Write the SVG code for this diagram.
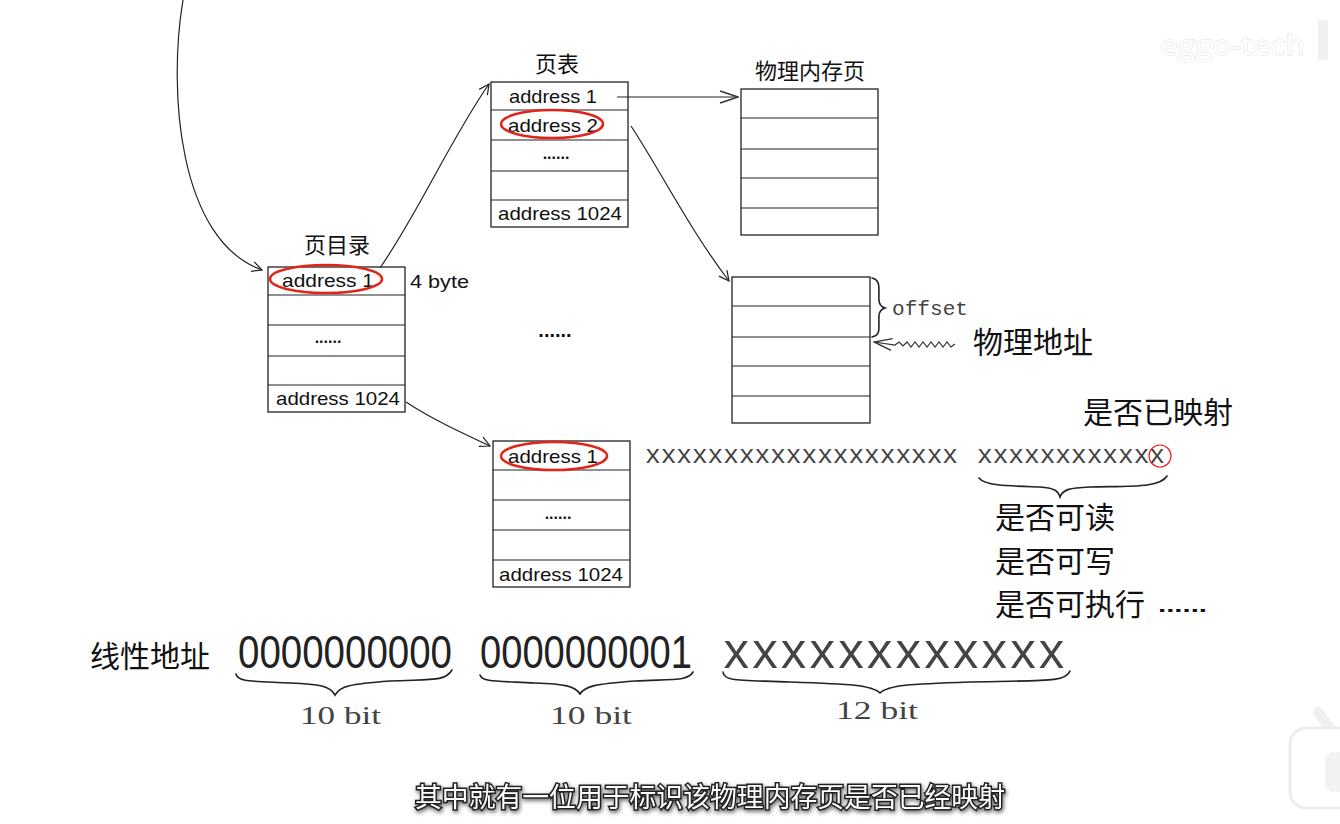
<svg xmlns="http://www.w3.org/2000/svg" width="1340" height="824" viewBox="0 0 1340 824">
  <defs>
    <marker id="open" viewBox="0 0 12 12" refX="11" refY="6" markerWidth="12" markerHeight="12" markerUnits="userSpaceOnUse" orient="auto">
      <path d="M1,1 L11,6 L1,11" fill="none" stroke="#222" stroke-width="1.2"/>
    </marker>
    <marker id="wide" viewBox="0 0 20 14" refX="19" refY="7" markerWidth="20" markerHeight="14" markerUnits="userSpaceOnUse" orient="auto">
      <path d="M1,1 L19,7 L1,13" fill="none" stroke="#333" stroke-width="1.4"/>
    </marker>
    <filter id="sub" x="-5%" y="-30%" width="110%" height="160%">
      <feGaussianBlur in="SourceAlpha" stdDeviation="2"/>
      <feOffset dx="1" dy="2" result="b"/>
      <feFlood flood-color="#000" flood-opacity="0.6"/>
      <feComposite in2="b" operator="in"/>
      <feMerge><feMergeNode/><feMergeNode in="SourceGraphic"/></feMerge>
    </filter>
  </defs>
  <style>
    .box { fill: #fff; stroke: #222; stroke-width: 1.3; }
    .row { stroke: #222; stroke-width: 1.2; }
    .addr { font-family: "Liberation Sans", "DejaVu Sans", sans-serif; font-size: 19px; fill: #111; text-anchor: middle; }
    .dots { font-family: "Liberation Sans", sans-serif; font-size: 16px; font-weight: bold; fill: #111; text-anchor: middle; }
    .title { font-family: "Noto Sans CJK SC", sans-serif; font-size: 22px; fill: #111; text-anchor: middle; }
    .cn { font-family: "Noto Sans CJK SC", sans-serif; font-size: 30px; fill: #111; }
    .mono { font-family: "Liberation Mono", monospace; fill: #444; }
    .bits { font-family: "Liberation Serif", serif; font-size: 26px; fill: #444; }
    .ring { fill: none; stroke: #e0261c; stroke-width: 2.6; }
    .link { fill: none; stroke: #222; stroke-width: 1.2; }
    .brace { fill: none; stroke: #222; stroke-width: 1.6; stroke-linecap: round; }
  </style>
  <rect width="1340" height="824" fill="#fff"/>

  <!-- page directory -->
  <g id="page-directory">
    <text class="title" x="337" y="253">页目录</text>
    <rect class="box" x="268" y="267" width="137" height="145"/>
    <line class="row" x1="268" y1="295" x2="405" y2="295"/>
    <line class="row" x1="268" y1="325" x2="405" y2="325"/>
    <line class="row" x1="268" y1="356" x2="405" y2="356"/>
    <line class="row" x1="268" y1="385" x2="405" y2="385"/>
    <text class="addr" x="328" y="287" textLength="92" lengthAdjust="spacingAndGlyphs">address 1</text>
    <text class="dots" x="328" y="343">......</text>
    <text class="addr" x="338" y="405" textLength="124" lengthAdjust="spacingAndGlyphs">address 1024</text>
    <ellipse class="ring" cx="326" cy="279" rx="56" ry="14"/>
    <text x="410" y="288" font-family="Liberation Sans, sans-serif" font-size="19" fill="#111" textLength="59" lengthAdjust="spacingAndGlyphs">4 byte</text>
  </g>

  <!-- page table (top) -->
  <g id="page-table-1">
    <text class="title" x="557" y="72">页表</text>
    <rect class="box" x="491" y="82" width="137" height="145"/>
    <line class="row" x1="491" y1="110" x2="628" y2="110"/>
    <line class="row" x1="491" y1="140" x2="628" y2="140"/>
    <line class="row" x1="491" y1="171" x2="628" y2="171"/>
    <line class="row" x1="491" y1="200" x2="628" y2="200"/>
    <text class="addr" x="553" y="103" textLength="88" lengthAdjust="spacingAndGlyphs">address 1</text>
    <text class="addr" x="553" y="132" textLength="90" lengthAdjust="spacingAndGlyphs">address 2</text>
    <text class="dots" x="556" y="159">......</text>
    <text class="addr" x="560" y="220" textLength="124" lengthAdjust="spacingAndGlyphs">address 1024</text>
    <ellipse class="ring" cx="552" cy="124" rx="51" ry="14"/>
  </g>

  <!-- page table (bottom) -->
  <g id="page-table-2">
    <rect class="box" x="493" y="441" width="137" height="146"/>
    <line class="row" x1="493" y1="470" x2="630" y2="470"/>
    <line class="row" x1="493" y1="500" x2="630" y2="500"/>
    <line class="row" x1="493" y1="530" x2="630" y2="530"/>
    <line class="row" x1="493" y1="560" x2="630" y2="560"/>
    <text class="addr" x="553" y="463" textLength="90" lengthAdjust="spacingAndGlyphs">address 1</text>
    <text class="dots" x="558" y="519">......</text>
    <text class="addr" x="561" y="581" textLength="124" lengthAdjust="spacingAndGlyphs">address 1024</text>
    <ellipse class="ring" cx="554" cy="456" rx="53" ry="14"/>
  </g>

  <!-- physical memory page (top) -->
  <g id="physical-page-1">
    <text class="title" x="810" y="79">物理内存页</text>
    <rect class="box" x="741" y="89" width="137" height="146"/>
    <line class="row" x1="741" y1="118" x2="878" y2="118"/>
    <line class="row" x1="741" y1="149" x2="878" y2="149"/>
    <line class="row" x1="741" y1="178" x2="878" y2="178"/>
    <line class="row" x1="741" y1="208" x2="878" y2="208"/>
  </g>

  <!-- physical memory page (selected) -->
  <g id="physical-page-2">
    <rect class="box" x="732" y="277" width="138" height="146"/>
    <line class="row" x1="732" y1="306" x2="870" y2="306"/>
    <line class="row" x1="732" y1="337" x2="870" y2="337"/>
    <line class="row" x1="732" y1="366" x2="870" y2="366"/>
    <line class="row" x1="732" y1="396" x2="870" y2="396"/>
    <path class="brace" stroke-width="1.1" d="M872,278 C882,280 878,292 879,300 C879,305 882,307 885,308 C882,309 879,311 879,316 C878,326 882,335 872,337"/>
    <text class="mono" x="892" y="315" font-size="21" textLength="76" lengthAdjust="spacingAndGlyphs">offset</text>
    <path fill="none" stroke="#333" stroke-width="1.2" d="M955,344 L951,347 L947,342 L943,347 L939,342 L935,347 L931,342 L927,347 L923,342 L919,347 L915,342 L911,347 L907,342 L903,346 L899,342 L895,345 L874,342" marker-end="url(#wide)"/>
    <text class="cn" x="973" y="353">物理地址</text>
  </g>

  <!-- middle ellipsis -->
  <g id="more-tables">
    <text x="555" y="337" font-family="Liberation Sans, sans-serif" font-size="20" font-weight="bold" fill="#111" text-anchor="middle">......</text>
  </g>

  <!-- page table entry layout -->
  <g id="entry-bits">
    <text class="mono" x="645" y="463" font-size="26" fill="#555" textLength="313" lengthAdjust="spacingAndGlyphs">xxxxxxxxxxxxxxxxxxxx</text>
    <text class="mono" x="977" y="463" font-size="26" fill="#555" textLength="188" lengthAdjust="spacingAndGlyphs">xxxxxxxxxxxx</text>
    <circle cx="1160" cy="456" r="11" fill="none" stroke="#e0261c" stroke-width="1.2"/>
    <text class="cn" x="1083" y="423">是否已映射</text>
    <path class="brace" d="M979,478 C985,486 1010,486 1040,487 C1053,488 1058,490 1060,497 C1063,489 1070,488 1090,487 C1130,486 1160,488 1167,476"/>
    <text class="cn" x="995" y="528">是否可读</text>
    <text class="cn" x="995" y="572">是否可写</text>
    <text class="cn" x="995" y="615">是否可执行</text>
    <text x="1158" y="612" font-family="Liberation Sans, sans-serif" font-size="20" font-weight="bold" fill="#111" textLength="49" lengthAdjust="spacingAndGlyphs">......</text>
  </g>

  <!-- linear address -->
  <g id="linear-address">
    <text class="cn" x="90" y="667">线性地址</text>
    <text x="238" y="668" font-family="Liberation Sans, sans-serif" font-size="46" fill="#222" textLength="214" lengthAdjust="spacingAndGlyphs">0000000000</text>
    <text x="480" y="668" font-family="Liberation Sans, sans-serif" font-size="46" fill="#222" textLength="212" lengthAdjust="spacingAndGlyphs">0000000001</text>
    <text class="mono" x="722" y="668" font-size="50" fill="#222" textLength="344" lengthAdjust="spacingAndGlyphs">xxxxxxxxxxxx</text>
    <path class="brace" d="M236,674 C238,682 250,681 290,683 C320,684 330,686 335,695 C340,686 350,684 390,681 C430,679 445,682 452,670"/>
    <text class="bits" x="300" y="724" textLength="81" lengthAdjust="spacingAndGlyphs">10 bit</text>
    <path class="brace" d="M480,675 C482,682 495,681 535,683 C565,684 575,686 580,694 C585,686 595,684 635,681 C675,679 688,681 693,672"/>
    <text class="bits" x="550" y="724" textLength="82" lengthAdjust="spacingAndGlyphs">10 bit</text>
    <path class="brace" stroke-width="2.6" d="M723,672 C724,682 740,680 790,682 C850,684 872,685 880,693 C888,685 910,684 970,682 C1040,680 1066,683 1070,671"/>
    <text class="bits" x="836" y="719" textLength="82" lengthAdjust="spacingAndGlyphs">12 bit</text>
  </g>

  <!-- connectors -->
  <g id="connectors">
    <path class="link" d="M183,0 C168,90 178,240 262,270" marker-end="url(#open)"/>
    <path class="link" d="M380,268 C420,210 450,140 489,84" marker-end="url(#open)"/>
    <path class="link" d="M617,97 L738,97" marker-end="url(#wide)"/>
    <path class="link" d="M631,126 C660,170 690,230 729,281" marker-end="url(#open)"/>
    <path class="link" d="M406,402 C430,418 460,432 490,446" marker-end="url(#open)"/>
  </g>

  <!-- channel marks -->
  <g id="watermark">
    <text x="1160" y="55" font-family="Open Sans, sans-serif" font-size="27" fill="#fff" stroke="#e2e2e2" stroke-width="1" paint-order="stroke" textLength="145" lengthAdjust="spacingAndGlyphs">eggo-tech</text>
    <rect x="1318" y="20" width="10" height="40" fill="#f0f0f0"/>
    <path d="M1318,712 L1330,728" stroke="#f0f0f0" stroke-width="10" stroke-linecap="round"/>
    <rect x="1290" y="728" width="70" height="80" rx="16" fill="#fff" stroke="#ececec" stroke-width="3"/>
    <rect x="1325" y="752" width="30" height="40" rx="8" fill="#f2f2f2"/>
  </g>

  <!-- caption -->
  <g id="caption" filter="url(#sub)">
    <text x="710" y="807" font-family="Noto Sans CJK SC, sans-serif" font-size="27" fill="#fff" stroke="#222" stroke-width="3" paint-order="stroke" text-anchor="middle" textLength="590" lengthAdjust="spacingAndGlyphs">其中就有一位用于标识该物理内存页是否已经映射</text>
  </g>
</svg>
